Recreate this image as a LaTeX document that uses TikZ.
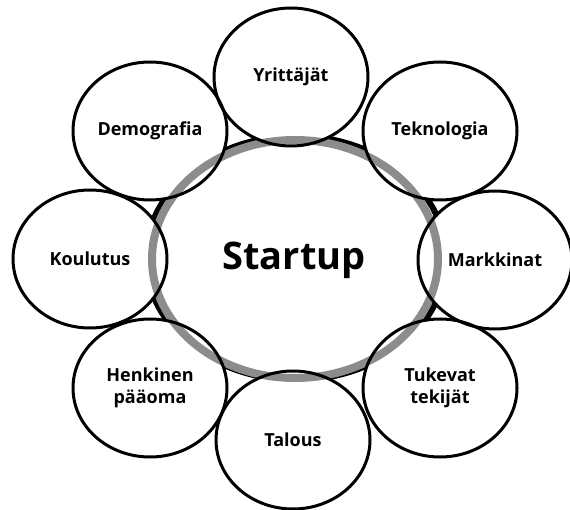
\documentclass[tikz,border=0pt]{standalone}
\usepackage{fontspec}
\setmainfont{Open Sans}
\usepackage{tikz}
\usetikzlibrary{shapes.geometric}

\begin{document}
\begin{tikzpicture}[
    x=1pt, y=-1pt,
    bubble/.style={ellipse, minimum width=154pt, minimum height=138pt, inner sep=0pt},
    bubblefill/.style={bubble, fill=white, draw=none},
    bubbleline/.style={bubble, draw=black, line width=3pt, align=center,
        font=\fontsize{18}{22}\selectfont\bfseries},
    hub/.style={font=\fontsize{38}{40}\selectfont\bfseries}
    ]
    \useasboundingbox (0,0) rectangle (570,510);

    % black ring under the bubbles
    \draw[line width=6pt] (296,258) ellipse [x radius=150, y radius=122];

    % white bubbles
    \foreach \name/\px/\py in {yrit/291/77, tekn/440/131, mark/495/260, tuki/440/388,
                               talo/293/440, henk/150/388, koul/90/259, demo/150/131}
        \node (\name Fill) [bubblefill] at (\px,\py) {};

    % grey ring over the bubbles
    \draw[line width=8pt, black!45] (295,259) ellipse [x radius=143, y radius=119];

    % outlines and labels
    \node (Yrit) [bubbleline] at (yritFill) {Yrittäjät};
    \node (Tekn) [bubbleline] at (teknFill) {Teknologia};
    \node (Mark) [bubbleline] at (markFill) {Markkinat};
    \node (Tuki) [bubbleline] at (tukiFill) {Tukevat\\tekijät};
    \node (Talo) [bubbleline] at (taloFill) {Talous};
    \node (Henk) [bubbleline] at (henkFill) {Henkinen\\pääoma};
    \node (Koul) [bubbleline] at (koulFill) {Koulutus};
    \node (Demo) [bubbleline] at (demoFill) {Demografia};

    \node (Startup) [hub] at (294,260) {Startup};
\end{tikzpicture}
\end{document}
